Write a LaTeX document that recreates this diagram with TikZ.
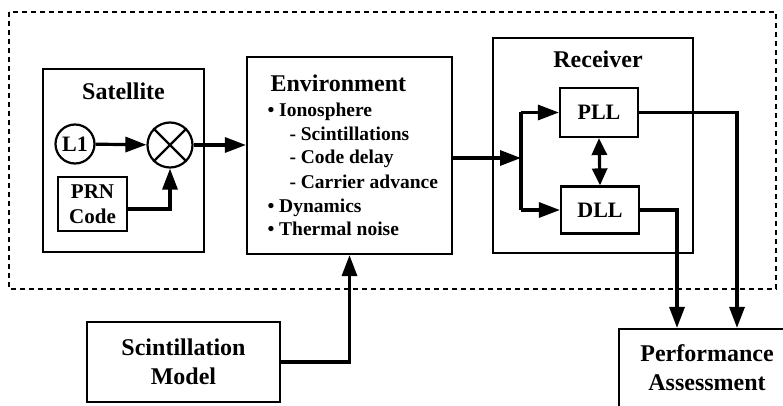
\documentclass[tikz,border=0pt]{standalone}
\usepackage{fontspec}
\setmainfont{Liberation Serif}
\usetikzlibrary{arrows.meta}
\tikzset{
  box/.style={draw, line width=2.2pt, inner sep=0pt},
  conn/.style={line width=3.2pt, -{Triangle[length=21pt,width=15pt]}},
  plain/.style={line width=3.2pt},
  titlefont/.style={font=\bfseries\fontsize{24}{29}\selectfont},
  envfont/.style={font=\bfseries\fontsize{19.5}{23.6}\selectfont},
  smallfont/.style={font=\bfseries\fontsize{22}{25}\selectfont},
}
\begin{document}
\begin{tikzpicture}[x=1pt,y=-1pt]
\useasboundingbox (0,0) rectangle (783,406);
\clip (0,0) rectangle (783,406);
% dashed system boundary
\draw[line width=1.2pt, dash pattern=on 5pt off 4pt] (9,12) rectangle (776,289);
% Satellite
\node[box, minimum width=161pt, minimum height=183pt] (sat) at (123.5,160.5) {};
\node[titlefont, anchor=base] (sattitle) at (123.5,100) {Satellite};
\node[draw, circle, line width=2.2pt, minimum size=39pt, inner sep=0pt, smallfont] (l1) at (75,144) {L1};
\node[draw, circle, line width=2.2pt, minimum size=45pt, inner sep=0pt] (mix) at (170,145) {};
\draw[line width=2.2pt] (mix.north west) -- (mix.south east) (mix.north east) -- (mix.south west);
\node[box, minimum width=69pt, minimum height=54pt, align=center, font=\bfseries\fontsize{21}{25}\selectfont] (prn) at (92.5,204) {PRN\\Code};
% Environment
\node[box, minimum width=205pt, minimum height=197pt] (env) at (349.5,155.5) {};
\node[titlefont, anchor=base west] (envtitle) at (267,92) {Environment};
\node[envfont, anchor=base west] (e1) at (264,117) {\textbullet\ Ionosphere};
\node[envfont, anchor=base west] (e2) at (286,141) {- Scintillations};
\node[envfont, anchor=base west] (e3) at (286,164) {- Code delay};
\node[envfont, anchor=base west] (e4) at (286,188) {- Carrier advance};
\node[envfont, anchor=base west] (e5) at (264,212) {\textbullet\ Dynamics};
\node[envfont, anchor=base west] (e6) at (264,235) {\textbullet\ Thermal noise};
% Receiver
\node[box, minimum width=200pt, minimum height=215pt] (rec) at (593,145.5) {};
\node[titlefont, anchor=base] (rectitle) at (598,68) {Receiver};
\node[box, minimum width=78pt, minimum height=49pt, smallfont] (pll) at (599,112.5) {PLL};
\node[box, minimum width=78pt, minimum height=47pt, smallfont] (dll) at (600,210) {DLL};
% Scintillation model
\node[box, minimum width=193pt, minimum height=80pt, align=center, titlefont] (scin) at (183.5,362) {Scintillation\\Model};
% Performance assessment
\node[box, minimum width=181pt, minimum height=91pt] (perf) at (709.5,374.5) {};
\node[titlefont, align=center, anchor=base] (perftext) at (707,390) {Performance\\Assessment};
% connectors
\coordinate (j) at (521,158);
\draw[conn] (l1) -- (mix);
\draw[conn] ([yshift=-5pt]prn.east) -| (mix.south);
\draw[conn] (mix.east) -- (mix.east -| env.west);
\draw[conn] (env.east |- j) -- (j);
\draw[plain] (j |- pll.west) -- (j |- dll.west);
\draw[conn] (j |- pll.west) -- (pll.west);
\draw[conn] (j |- dll.west) -- (dll.west);
\draw[line width=3.2pt, {Triangle[length=17pt,width=15pt]}-{Triangle[length=17pt,width=15pt]}] (pll.south) -- (dll.north);
\draw[conn] (pll.east) -| ([xshift=27.5pt]perf.north);
\draw[conn] (dll.east) -| ([xshift=-32.5pt]perf.north);
\draw[conn] (scin.east) -| (env.south);
\end{tikzpicture}
\end{document}
